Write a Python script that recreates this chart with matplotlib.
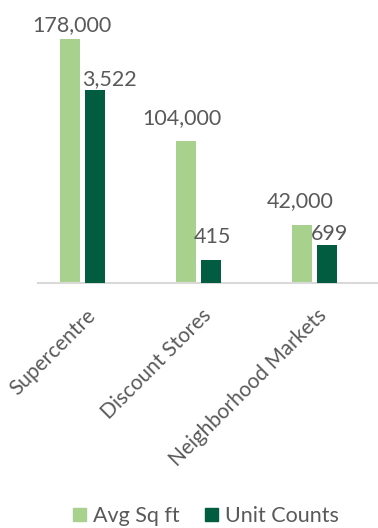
import numpy as np
import matplotlib.pyplot as plt
import matplotlib.transforms as mtrans
from matplotlib.patches import Patch

categories = ['Supercentre', 'Discount Stores', 'Neighborhood Markets']
avg_sq_ft = [178000, 104000, 42000]
unit_counts = [3522, 415, 699]
avg_labels = ['178,000', '104,000', '42,000']
unit_labels = ['3,522', '415', '699']

light = '#A9D18E'
dark = '#025C40'
text_col = '#595959'

# label nudges (pixels) to mimic the manual placement in the source chart
avg_offsets = [(2, 8), (-4, 16), (-1, 18)]
unit_offsets = [(15, 5), (2, 17), (3, 5)]

plt.rcParams['font.family'] = ['Lato', 'DejaVu Sans']

fig = plt.figure(figsize=(3.78, 5.28), dpi=100)
ax = fig.add_axes([38 / 378, 1 - 283 / 528, 340 / 378, 274 / 528])
ax2 = ax.twinx()

x = np.arange(len(categories))
w = 0.172
off = 0.108
b1 = ax.bar(x - off, avg_sq_ft, w, color=light, zorder=2)
b2 = ax2.bar(x + off, unit_counts, w, color=dark, zorder=2)

ax.set_xlim(-0.381, 2.55)
ax.set_ylim(0, 200000)
ax2.set_ylim(0, 5000)

for a in (ax, ax2):
    for s in a.spines.values():
        s.set_visible(False)
    a.set_yticks([])
ax.spines['bottom'].set_visible(True)
ax.spines['bottom'].set_color('#D9D9D9')
ax.spines['bottom'].set_linewidth(1.5)

for rect, lab, (dx, dy) in zip(b1, avg_labels, avg_offsets):
    ax.annotate(lab, (rect.get_x() + rect.get_width() / 2, rect.get_height()),
                xytext=(dx, dy), textcoords='offset pixels', ha='center', va='baseline',
                fontsize=15.5, color=text_col)
for rect, lab, (dx, dy) in zip(b2, unit_labels, unit_offsets):
    ax2.annotate(lab, (rect.get_x() + rect.get_width() / 2, rect.get_height()),
                 xytext=(dx, dy), textcoords='offset pixels', ha='center', va='baseline',
                 fontsize=15.5, color=text_col)

ax.set_xticks(x)
ax.set_xticklabels(categories, rotation=45, ha='right', va='top', fontsize=15, color=text_col)
ax.tick_params(axis='x', length=0, pad=16)
shift = mtrans.ScaledTranslation(17 / 100, 0, fig.dpi_scale_trans)
for t in ax.get_xticklabels():
    t.set_transform(t.get_transform() + shift)

handles = [Patch(color=light, label='Avg Sq ft'), Patch(color=dark, label='Unit Counts')]
fig.legend(handles=handles, loc='center', bbox_to_anchor=(206 / 378, 1 - 516 / 528), ncol=2,
           frameon=False, fontsize=15.5, handlelength=0.6, handleheight=0.6, handletextpad=0.3,
           columnspacing=1.2, labelcolor=text_col)

fig.savefig('out.png', dpi=100)
